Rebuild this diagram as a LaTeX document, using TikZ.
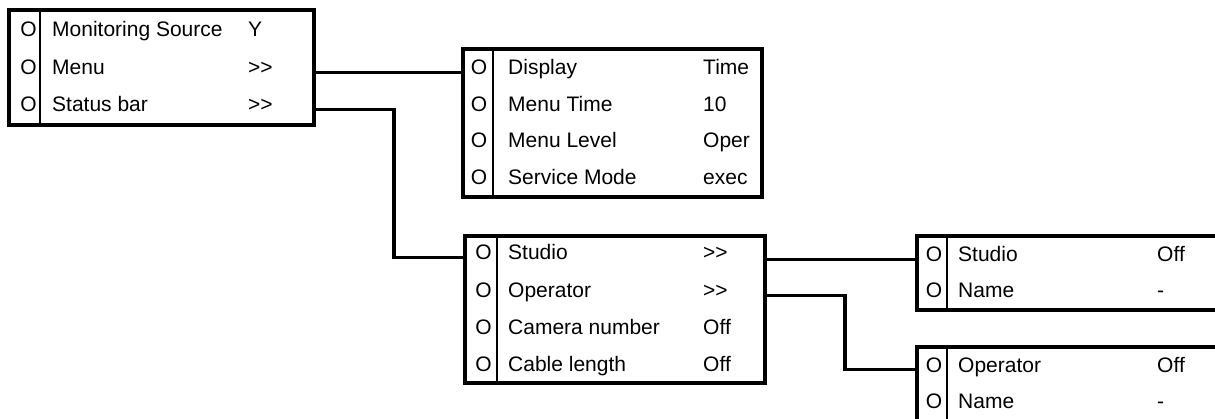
\documentclass[tikz,border=0pt]{standalone}
\usepackage{fontspec}
\setmainfont{Liberation Sans}
\begin{document}
\begin{tikzpicture}[x=1pt,y=-1pt,
  box/.style={draw,line width=3.2pt,anchor=north west,inner sep=0pt,outer sep=0pt},
  divider/.style={line width=2pt},
  conn/.style={line width=3.2pt},
  otext/.style={anchor=base,inner sep=0pt},
  ltext/.style={anchor=base west,inner sep=0pt},
  font=\fontsize{21}{25}\selectfont]
\useasboundingbox (0,0) rectangle (1215,419);
\clip (0,0) rectangle (1215,419);

% boxes
\node[box,minimum width=305pt,minimum height=115pt] (b1) at (9,10) {};
\node[box,minimum width=299pt,minimum height=148pt] (b2) at (463,49) {};
\node[box,minimum width=300pt,minimum height=147pt] (b3) at (465,236) {};
\node[box,minimum width=330pt,minimum height=74pt] (b4) at (917,236) {};
\node[box,minimum width=330pt,minimum height=95pt] (b5) at (917,347) {};

% dividers
\draw[divider] ([xshift=31pt]b1.north west) -- ([xshift=31pt]b1.south west);
\draw[divider] ([xshift=30pt]b2.north west) -- ([xshift=30pt]b2.south west);
\draw[divider] ([xshift=32pt]b3.north west) -- ([xshift=32pt]b3.south west);
\draw[divider] ([xshift=30pt]b4.north west) -- ([xshift=30pt]b4.south west);
\draw[divider] ([xshift=30pt]b5.north west) -- ([xshift=30pt]b5.south west);

% box 1 rows
\foreach \y/\lab/\val [count=\i] in {37/Monitoring Source/Y, 75/Menu/>\kern0pt>, 112/Status bar/>\kern0pt>}{
  \node[otext] (b1o\i) at (28.5,\y) {O};
  \node[ltext] (b1l\i) at (52,\y) {\lab};
  \node[ltext] (b1v\i) at (248,\y) {\val};
}
% box 2 rows
\foreach \y/\lab/\val [count=\i] in {75/Display/Time, 112/Menu Time/10, 148/Menu Level/Oper, 185/Service Mode/exec}{
  \node[otext] (b2o\i) at (479,\y) {O};
  \node[ltext] (b2l\i) at (508,\y) {\lab};
  \node[ltext] (b2v\i) at (703,\y) {\val};
}
% box 3 rows
\foreach \y/\lab/\val [count=\i] in {260/Studio/>\kern0pt>, 298/Operator/>\kern0pt>, 335/Camera number/Off, 371/Cable length/Off}{
  \node[otext] (b3o\i) at (483.5,\y) {O};
  \node[ltext] (b3l\i) at (508,\y) {\lab};
  \node[ltext] (b3v\i) at (703,\y) {\val};
}
% box 4 rows
\foreach \y/\lab/\val [count=\i] in {262/Studio/Off, 298/Name/-}{
  \node[otext] (b4o\i) at (934,\y) {O};
  \node[ltext] (b4l\i) at (958,\y) {\lab};
  \node[ltext] (b4v\i) at (1157,\y) {\val};
}
% box 5 rows
\foreach \y/\lab/\val [count=\i] in {372/Operator/Off, 408/Name/-}{
  \node[otext] (b5o\i) at (934,\y) {O};
  \node[ltext] (b5l\i) at (958,\y) {\lab};
  \node[ltext] (b5v\i) at (1157,\y) {\val};
}

% connectors
\coordinate (j1) at (394,0);
\coordinate (j2) at (845,0);
\draw[conn] (b1.east |- b1l2.mid) -- (b2.west |- b1l2.mid);
\draw[conn] (b1.east |- b1l3.mid) -| (j1 |- b3l1.mid) -- (b3.west |- b3l1.mid);
\draw[conn] (b3.east |- b4l1.mid) -- (b4.west |- b4l1.mid);
\draw[conn] (b3.east |- b3l2.mid) -| (j2 |- b5l1.mid) -- (b5.west |- b5l1.mid);
\end{tikzpicture}
\end{document}
